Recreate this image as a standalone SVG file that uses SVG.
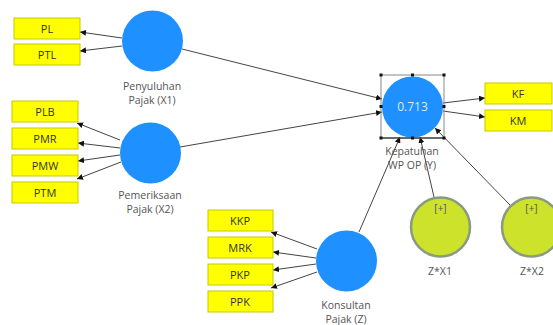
<svg xmlns="http://www.w3.org/2000/svg" width="553" height="325" viewBox="0 0 553 325">
<defs>
<marker id="ah" viewBox="0 0 10 10" refX="10" refY="5" markerWidth="6" markerHeight="6" orient="auto" markerUnits="userSpaceOnUse">
<path d="M0,0 L10,5 L0,10 z" fill="#111"/>
</marker>
</defs>
<style>
.box{fill:#ffff00;stroke:#c8c800;stroke-width:1}
.bt{font-family:"Open Sans","Noto Sans",sans-serif;font-size:11px;fill:#333;text-anchor:middle}
.lv{fill:#1e90ff}
.lt{font-family:"Open Sans","Noto Sans",sans-serif;font-size:10.5px;fill:#555;text-anchor:middle}
.mod{fill:#cde22a;stroke:#8a9a80;stroke-width:2.5}
.pl{font-family:"Open Sans","Noto Sans",sans-serif;font-size:10px;fill:#555;text-anchor:middle}
.c{stroke:#444;stroke-width:1;fill:none;marker-end:url(#ah)}
.h{fill:#111}
</style>
<rect width="553" height="325" fill="#fff"/>
<g id="connectors">
<line class="c" x1="122" y1="38" x2="80" y2="32"/>
<line class="c" x1="122" y1="46" x2="80" y2="51"/>
<line class="c" x1="182" y1="49" x2="382" y2="99"/>
<line class="c" x1="180" y1="147" x2="382" y2="112"/>
<line class="c" x1="120" y1="140" x2="77" y2="123"/>
<line class="c" x1="120" y1="148" x2="78" y2="143"/>
<line class="c" x1="120" y1="155" x2="78" y2="161"/>
<line class="c" x1="121" y1="162" x2="77" y2="179"/>
<line class="c" x1="443" y1="103" x2="485" y2="98"/>
<line class="c" x1="443" y1="111" x2="485" y2="117"/>
<line class="c" x1="359" y1="232" x2="400" y2="137"/>
<line class="c" x1="434" y1="197" x2="420" y2="137"/>
<line class="c" x1="510" y1="205" x2="435" y2="128"/>
<line class="c" x1="317" y1="249" x2="271" y2="232"/>
<line class="c" x1="316" y1="258" x2="273" y2="252"/>
<line class="c" x1="316" y1="264" x2="273" y2="270"/>
<line class="c" x1="317" y1="272" x2="271" y2="288"/>
</g>
<g id="PL"><rect class="box" x="14" y="18" width="66" height="21"/><text class="bt" x="47" y="32.5">PL</text></g>
<g id="PTL"><rect class="box" x="14" y="44" width="66" height="21"/><text class="bt" x="47" y="58.5">PTL</text></g>
<g id="PLB"><rect class="box" x="12" y="101" width="66" height="21"/><text class="bt" x="45" y="115.5">PLB</text></g>
<g id="PMR"><rect class="box" x="12" y="128" width="66" height="21"/><text class="bt" x="45" y="142.5">PMR</text></g>
<g id="PMW"><rect class="box" x="12" y="155" width="66" height="21"/><text class="bt" x="45" y="169.5">PMW</text></g>
<g id="PTM"><rect class="box" x="12" y="182" width="66" height="21"/><text class="bt" x="45" y="196.5">PTM</text></g>
<g id="KF"><rect class="box" x="485" y="83" width="67" height="21"/><text class="bt" x="518" y="97.5">KF</text></g>
<g id="KM"><rect class="box" x="485" y="110" width="67" height="21"/><text class="bt" x="518" y="124.5">KM</text></g>
<g id="KKP"><rect class="box" x="208" y="210" width="65" height="21"/><text class="bt" x="240" y="224.5">KKP</text></g>
<g id="MRK"><rect class="box" x="208" y="237" width="65" height="21"/><text class="bt" x="240" y="251.5">MRK</text></g>
<g id="PKP"><rect class="box" x="208" y="264" width="65" height="21"/><text class="bt" x="240" y="278.5">PKP</text></g>
<g id="PPK"><rect class="box" x="208" y="291" width="65" height="21"/><text class="bt" x="240" y="305.5">PPK</text></g>
<g id="X1"><circle class="lv" cx="152.5" cy="41" r="30.5"/><text class="lt" x="152" y="90">Penyuluhan</text><text class="lt" x="152" y="104">Pajak (X1)</text></g>
<g id="X2"><circle class="lv" cx="150.5" cy="153" r="30.5"/><text class="lt" x="150" y="199">Pemeriksaan</text><text class="lt" x="150" y="213">Pajak (X2)</text></g>
<g id="Y"><circle class="lv" cx="412.5" cy="107" r="30.5"/>
<text x="412.5" y="111" font-family="'Open Sans','Noto Sans',sans-serif" font-size="12" fill="#dde8f5" text-anchor="middle">0.713</text>
<rect x="381" y="75" width="63" height="63" fill="none" stroke="#888" stroke-width="1"/>
<line x1="381" y1="138" x2="444" y2="138" stroke="#111" stroke-width="1"/>
<rect class="h" x="379.5" y="73.5" width="3" height="3"/><rect class="h" x="411" y="73.5" width="3" height="3"/><rect class="h" x="442.5" y="73.5" width="3" height="3"/>
<rect class="h" x="379.5" y="105" width="3" height="3"/><rect class="h" x="442.5" y="105" width="3" height="3"/>
<rect class="h" x="379.5" y="136.5" width="3" height="3"/><rect class="h" x="411" y="136.5" width="3" height="3"/><rect class="h" x="442.5" y="136.5" width="3" height="3"/>
<text class="lt" x="412" y="155">Kepatuhan</text><text class="lt" x="412" y="169">WP OP (Y)</text></g>
<g id="Z"><circle class="lv" cx="346.5" cy="261" r="30.5"/><text class="lt" x="346" y="309">Konsultan</text><text class="lt" x="346" y="323">Pajak (Z)</text></g>
<g id="ZX1"><circle class="mod" cx="440.5" cy="227" r="29.5"/><text class="pl" x="440.5" y="212">[+]</text><text class="lt" x="440" y="275">Z*X1</text></g>
<g id="ZX2"><circle class="mod" cx="531.5" cy="227" r="29.5"/><text class="pl" x="531.5" y="212">[+]</text><text class="lt" x="532" y="275">Z*X2</text></g>
</svg>
